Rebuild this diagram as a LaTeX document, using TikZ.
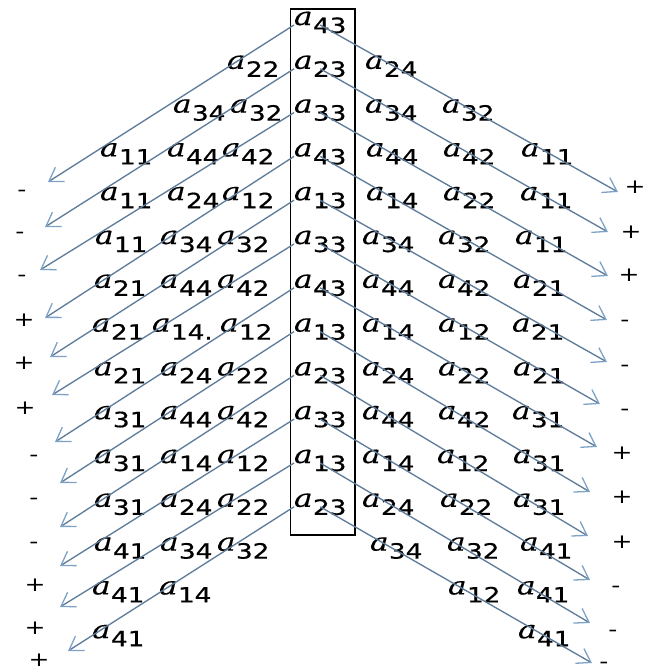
\documentclass[tikz,border=0pt]{standalone}
\usepackage{fontspec}
\usepackage{graphicx}
\newfontfamily\dejavu[FakeBold=0.6]{DejaVu Sans}
\newfontfamily\serifit[FakeBold=0.3]{DejaVu Serif Italic}
\newfontfamily\signfont{DejaVu Sans}
\usetikzlibrary{arrows.meta}
\definecolor{arrowc}{RGB}{95,125,155}
\definecolor{headc}{RGB}{125,162,198}
\newcommand{\ent}[1]{\scalebox{1.25}[1]{\fontsize{25pt}{25pt}\selectfont\serifit a\kern0.3pt\raisebox{-8pt}{\fontsize{21pt}{21pt}\selectfont\dejavu #1}}}
\newcommand{\E}[4]{\node[ent] (#1) at (#2,#3) {\ent{#4}};}
\newcommand{\sg}[4]{\node[sgn] (#1) at (#2,#3) {\scalebox{1.25}[1]{#4}};}
\tikzset{
  ent/.style={anchor=base west,inner sep=0pt,outer sep=0pt},
  sgn/.style={anchor=base,inner sep=0pt,font=\signfont\fontsize{20pt}{20pt}\selectfont},
  arr/.style={draw=arrowc,line width=1.35pt,-{Straight Barb[length=13pt,width=17pt,line width=1.3pt,color=headc]}},
  boxline/.style={draw=black,line width=1.4pt}
}
\begin{document}
\begin{tikzpicture}[x=1pt,y=-1pt]
\useasboundingbox (0,0) rectangle (647,672);
% box
\draw[boxline] (290.5,9) rectangle (355,535);
% center column
\E{c1}{294}{25}{43}
\E{c2}{294}{68.8}{23}
\E{c3}{294}{112.6}{33}
\E{c4}{294}{156.4}{43}
\E{c5}{294}{200.2}{13}
\E{c6}{294}{244}{33}
\E{c7}{294}{287.8}{43}
\E{c8}{294}{331.6}{13}
\E{c9}{294}{375.4}{23}
\E{c10}{294}{419.2}{33}
\E{c11}{294}{463}{13}
\E{c12}{294}{506.8}{23}
% left side
\E{l2c}{227}{68.8}{22}
\E{l3b}{173}{112.6}{34}
\E{l3c}{230}{112.6}{32}
\E{l4a}{100}{156.4}{11}\E{l4b}{167}{156.4}{44}\E{l4c}{222}{156.4}{42}
\E{l5a}{100}{200.2}{11}\E{l5b}{167}{200.2}{24}\E{l5c}{222}{200.2}{12}
\E{l6a}{95}{244}{11}\E{l6b}{160}{244}{34}\E{l6c}{217}{244}{32}
\E{l7a}{94}{287.8}{21}\E{l7b}{160}{287.8}{44}\E{l7c}{217}{287.8}{42}
\E{l8a}{92}{331.6}{21}\E{l8b}{152}{331.6}{14.}\E{l8c}{220}{331.6}{12}
\E{l9a}{94}{375.4}{21}\E{l9b}{160}{375.4}{24}\E{l9c}{217}{375.4}{22}
\E{l10a}{94}{419.2}{31}\E{l10b}{160}{419.2}{44}\E{l10c}{217}{419.2}{42}
\E{l11a}{94}{463}{31}\E{l11b}{160}{463}{14}\E{l11c}{217}{463}{12}
\E{l12a}{94}{506.8}{31}\E{l12b}{160}{506.8}{24}\E{l12c}{217}{506.8}{22}
\E{l13a}{94}{550.6}{41}\E{l13b}{160}{550.6}{34}\E{l13c}{217}{550.6}{32}
\E{l14a}{92}{594.4}{41}\E{l14b}{159}{594.4}{14}
\E{l15a}{92}{638.2}{41}
% right side
\E{r2a}{365}{68.8}{24}
\E{r3a}{365}{112.6}{34}\E{r3b}{442}{112.6}{32}
\E{r4a}{366}{156.4}{44}\E{r4b}{443}{156.4}{42}\E{r4c}{521}{156.4}{11}
\E{r5a}{366}{200.2}{14}\E{r5b}{443}{200.2}{22}\E{r5c}{520}{200.2}{11}
\E{r6a}{362}{244}{34}\E{r6b}{438}{244}{32}\E{r6c}{515}{244}{11}
\E{r7a}{362}{287.8}{44}\E{r7b}{438}{287.8}{42}\E{r7c}{513}{287.8}{21}
\E{r8a}{362}{331.6}{14}\E{r8b}{438}{331.6}{12}\E{r8c}{512}{331.6}{21}
\E{r9a}{362}{375.4}{24}\E{r9b}{438}{375.4}{22}\E{r9c}{513}{375.4}{21}
\E{r10a}{362}{419.2}{44}\E{r10b}{438}{419.2}{42}\E{r10c}{512}{419.2}{31}
\E{r11a}{362}{463}{14}\E{r11b}{437}{463}{12}\E{r11c}{513}{463}{31}
\E{r12a}{362}{506.8}{24}\E{r12b}{440}{506.8}{22}\E{r12c}{513}{506.8}{31}
\E{r13a}{370}{550.6}{34}\E{r13b}{447}{550.6}{32}\E{r13c}{520}{550.6}{41}
\E{r14b}{448}{594.4}{12}\E{r14c}{517}{594.4}{41}
\E{r15c}{518}{638.2}{41}
% signs left
\sg{ls1}{22}{196}{-}
\sg{ls2}{20}{238}{-}
\sg{ls3}{22}{281}{-}
\sg{ls4}{24}{326}{+}
\sg{ls5}{24}{369}{+}
\sg{ls6}{25}{414}{+}
\sg{ls7}{34}{461}{-}
\sg{ls8}{34}{504}{-}
\sg{ls9}{34}{548}{-}
\sg{ls10}{35}{591}{+}
\sg{ls11}{35}{634}{+}
\sg{ls12}{39}{666}{+}
% signs right
\sg{rs1}{635}{193}{+}
\sg{rs2}{631}{238}{+}
\sg{rs3}{629}{281}{+}
\sg{rs4}{625}{326}{-}
\sg{rs5}{625}{371}{-}
\sg{rs6}{625}{415}{-}
\sg{rs7}{622}{459}{+}
\sg{rs8}{622}{503}{+}
\sg{rs9}{622}{548}{+}
\sg{rs10}{616}{592}{-}
\sg{rs11}{613}{636}{-}
\sg{rs12}{604}{668}{-}
% arrow tips
\coordinate (lt1) at (48,182);
\coordinate (lt2) at (45,227);
\coordinate (lt3) at (40,270);
\coordinate (lt4) at (45,318);
\coordinate (lt5) at (50,357);
\coordinate (lt6) at (52,395);
\coordinate (lt7) at (55,442);
\coordinate (lt8) at (60,483);
\coordinate (lt9) at (60,527);
\coordinate (lt10) at (60,566);
\coordinate (lt11) at (60,607);
\coordinate (lt12) at (68,651);
\coordinate (rt1) at (618,192);
\coordinate (rt2) at (608,232);
\coordinate (rt3) at (608,276);
\coordinate (rt4) at (607,320);
\coordinate (rt5) at (607,362);
\coordinate (rt6) at (600,404);
\coordinate (rt7) at (597,447);
\coordinate (rt8) at (590,492);
\coordinate (rt9) at (588,536);
\coordinate (rt10) at (590,580);
\coordinate (rt11) at (590,623);
\coordinate (rt12) at (592,663);
\foreach \i in {1,...,12}{
  \draw[arr] (c\i.base west) -- (lt\i);
  \draw[arr] (c\i.base) -- (rt\i);
}
\end{tikzpicture}
\end{document}
